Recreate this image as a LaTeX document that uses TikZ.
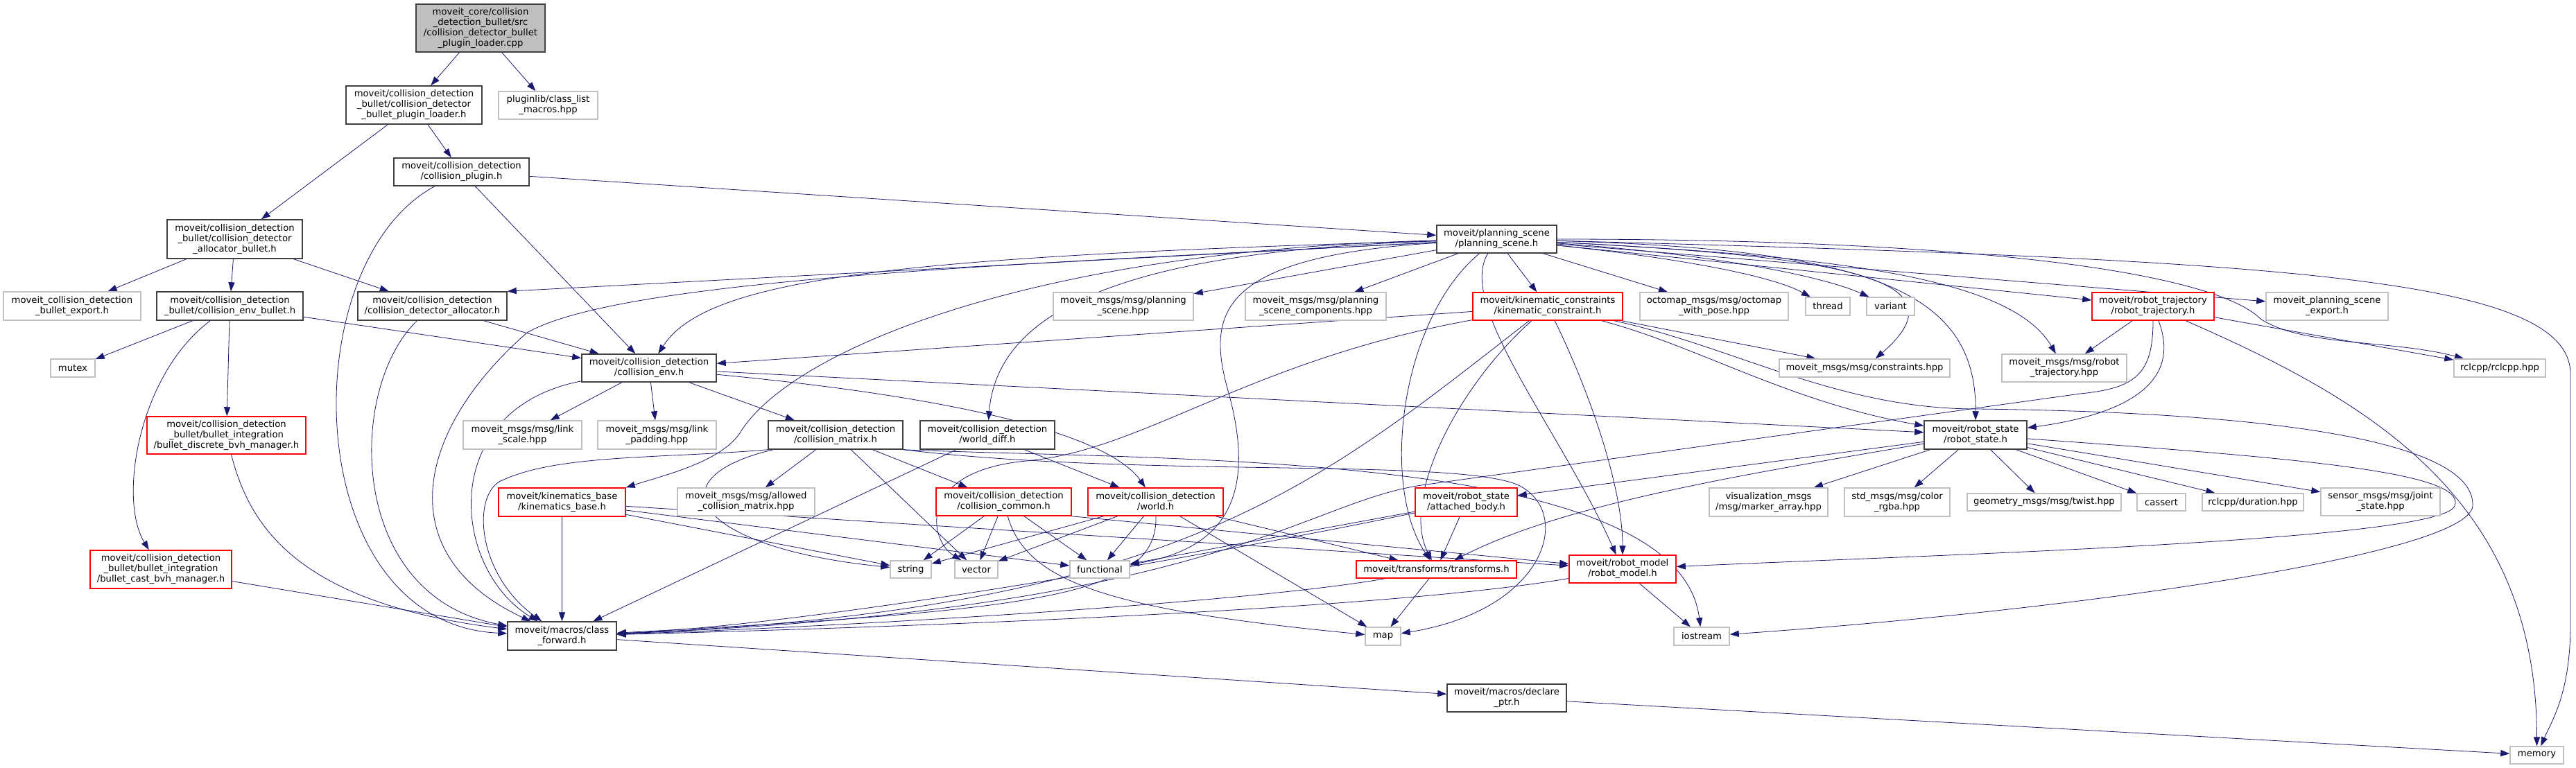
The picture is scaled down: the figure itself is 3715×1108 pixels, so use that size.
\documentclass[tikz,border=0pt]{standalone}
\usepackage{fontspec}
\setmainfont{DejaVu Sans}
\usepackage{tikz}
\usetikzlibrary{arrows.meta, backgrounds}
\definecolor{edgeblue}{RGB}{25,25,112}
\definecolor{docgray}{RGB}{64,64,64}
\definecolor{extgray}{RGB}{191,191,191}
\definecolor{rootgray}{RGB}{191,191,191}
\definecolor{truncred}{RGB}{255,0,0}
\newcommand\incfont{\fontsize{6.6pt}{7.5pt}\selectfont}

\begin{document}
\begin{tikzpicture}[->, >={Triangle[length=6.5pt, width=4.6pt]},
            x=0.5pt, y=-0.5pt, line width=0.7pt,
            every node/.style={font=\incfont, align=center, inner sep=0pt},
            every edge/.style={draw=edgeblue},
            doc/.style={draw=docgray, fill=white, line width=0.75pt},
            ext/.style={draw=extgray, fill=white, line width=0.75pt},
            trunc/.style={draw=truncred, fill=white, line width=0.75pt},
            root/.style={draw=docgray, fill=rootgray, line width=0.75pt},
            sz/.style 2 args={minimum width=#1*0.5pt, minimum height=#2*0.5pt}]
          \useasboundingbox (0,0) rectangle (3715,1108);
          \node[root, sz={186}{69}] (cpp) at (693,40.5) {moveit\_core/collision\\\_detection\_bullet/src\\/collision\_detector\_bullet\\\_plugin\_loader.cpp};
          \node[doc, sz={196}{55}] (ploader) at (597,151.5) {moveit/collision\_detection\\\_bullet/collision\_detector\\\_bullet\_plugin\_loader.h};
          \node[ext, sz={143}{40}] (classlist) at (790.5,152) {pluginlib/class\_list\\\_macros.hpp};
          \node[doc, sz={195}{40}] (collplugin) at (665.5,248) {moveit/collision\_detection\\/collision\_plugin.h};
          \node[doc, sz={195}{56}] (allocbullet) at (338.5,345) {moveit/collision\_detection\\\_bullet/collision\_detector\\\_allocator\_bullet.h};
          \node[ext, sz={198}{41}] (bexport) at (104,441.5) {moveit\_collision\_detection\\\_bullet\_export.h};
          \node[doc, sz={211}{41}] (envbullet) at (331.5,441.5) {moveit/collision\_detection\\\_bullet/collision\_env\_bullet.h};
          \node[doc, sz={215}{41}] (detalloc) at (623.5,441.5) {moveit/collision\_detection\\/collision\_detector\_allocator.h};
          \node[ext, sz={64}{26}] (mutex) at (105,531) {mutex};
          \node[trunc, sz={229}{54}] (discrete) at (326.5,628) {moveit/collision\_detection\\\_bullet/bullet\_integration\\/bullet\_discrete\_bvh\_manager.h};
          \node[trunc, sz={204}{55}] (castbvh) at (232,821.5) {moveit/collision\_detection\\\_bullet/bullet\_integration\\/bullet\_cast\_bvh\_manager.h};
          \node[doc, sz={194}{40}] (collenv) at (936,531) {moveit/collision\_detection\\/collision\_env.h};
          \node[ext, sz={171}{41}] (linkscale) at (753.5,627.5) {moveit\_msgs/msg/link\\\_scale.hpp};
          \node[ext, sz={171}{41}] (linkpad) at (947.5,627.5) {moveit\_msgs/msg/link\\\_padding.hpp};
          \node[doc, sz={194}{41}] (collmatrix) at (1205,627.5) {moveit/collision\_detection\\/collision\_matrix.h};
          \node[doc, sz={194}{41}] (worlddiff) at (1424,627.5) {moveit/collision\_detection\\/world\_diff.h};
          \node[trunc, sz={183}{41}] (kinbase) at (810.5,724.5) {moveit/kinematics\_base\\/kinematics\_base.h};
          \node[ext, sz={198}{40}] (allowed) at (1076,724) {moveit\_msgs/msg/allowed\\\_collision\_matrix.hpp};
          \node[trunc, sz={195}{40}] (collcommon) at (1447.5,724) {moveit/collision\_detection\\/collision\_common.h};
          \node[trunc, sz={195}{40}] (world) at (1666.5,724) {moveit/collision\_detection\\/world.h};
          \node[ext, sz={59}{25}] (string) at (1313.5,821.5) {string};
          \node[ext, sz={62}{25}] (vector) at (1408,821.5) {vector};
          \node[ext, sz={86}{25}] (functional) at (1586,821.5) {functional};
          \node[doc, sz={157}{41}] (classfwd) at (810.5,917.5) {moveit/macros/class\\\_forward.h};
          \node[ext, sz={51}{26}] (map) at (1994.5,918) {map};
          \node[doc, sz={173}{40}] (planscene) at (2158.5,345) {moveit/planning\_scene\\/planning\_scene.h};
          \node[ext, sz={202}{40}] (psmsg) at (1620,442) {moveit\_msgs/msg/planning\\\_scene.hpp};
          \node[ext, sz={203}{40}] (pscomp) at (1897.5,442) {moveit\_msgs/msg/planning\\\_scene\_components.hpp};
          \node[trunc, sz={216}{40}] (kinconstr) at (2232,442) {moveit/kinematic\_constraints\\/kinematic\_constraint.h};
          \node[ext, sz={214}{40}] (octomap) at (2472,442) {octomap\_msgs/msg/octomap\\\_with\_pose.hpp};
          \node[ext, sz={64}{26}] (thread) at (2636,442) {thread};
          \node[ext, sz={69}{26}] (variant) at (2726.5,442) {variant};
          \node[ext, sz={246}{26}] (constraints) at (2689,531) {moveit\_msgs/msg/constraints.hpp};
          \node[doc, sz={148}{41}] (robotstate) at (2849,627.5) {moveit/robot\_state\\/robot\_state.h};
          \node[trunc, sz={147}{41}] (attached) at (2114.5,724.5) {moveit/robot\_state\\/attached\_body.h};
          \node[trunc, sz={231}{25}] (transforms) at (2071.5,821.5) {moveit/transforms/transforms.h};
          \node[trunc, sz={154}{40}] (robotmodel) at (2340,821) {moveit/robot\_model\\/robot\_model.h};
          \node[ext, sz={171}{41}] (marker) at (2550.5,724.5) {visualization\_msgs\\/msg/marker\_array.hpp};
          \node[ext, sz={152}{41}] (colorrgba) at (2736,724.5) {std\_msgs/msg/color\\\_rgba.hpp};
          \node[ext, sz={80}{26}] (iostream) at (2454,918) {iostream};
          \node[doc, sz={172}{40}] (declptr) at (2173,1007) {moveit/macros/declare\\\_ptr.h};
          \node[trunc, sz={176}{40}] (robtraj) at (3105,442) {moveit/robot\_trajectory\\/robot\_trajectory.h};
          \node[ext, sz={176}{40}] (psexport) at (3356,442) {moveit\_planning\_scene\\\_export.h};
          \node[ext, sz={180}{40}] (robtrajmsg) at (2977,531) {moveit\_msgs/msg/robot\\\_trajectory.hpp};
          \node[ext, sz={132}{26}] (rclcpp) at (3605,531) {rclcpp/rclcpp.hpp};
          \node[ext, sz={222}{25}] (twist) at (2948,724.5) {geometry\_msgs/msg/twist.hpp};
          \node[ext, sz={70}{25}] (cassert) at (3117,724.5) {cassert};
          \node[ext, sz={146}{25}] (duration) at (3249,724.5) {rclcpp/duration.hpp};
          \node[ext, sz={172}{40}] (jointstate) at (3433,724) {sensor\_msgs/msg/joint\\\_state.hpp};
          \node[ext, sz={77}{25}] (memory) at (3658.5,1089.5) {memory};
          \begin{scope}[on background layer]
            \fill[white, -] (0,0) rectangle (3715,1108);
            \path (cpp) edge (ploader)
                  (cpp) edge (classlist)
                  (ploader) edge (allocbullet)
                  (ploader) edge (collplugin)
                  (collplugin) edge (planscene)
                  (collplugin) edge (collenv)
                  (allocbullet) edge (bexport)
                  (allocbullet) edge (envbullet)
                  (allocbullet) edge (detalloc)
                  (envbullet) edge (mutex)
                  (envbullet) edge (discrete)
                  (envbullet) edge (collenv)
                  (detalloc) edge (collenv)
                  (castbvh) edge (classfwd)
                  (collenv) edge (linkscale)
                  (collenv) edge (linkpad)
                  (collenv) edge (collmatrix)
                  (collenv) edge (robotstate)
                  (collmatrix) edge (allowed)
                  (collmatrix) edge (collcommon)
                  (collmatrix) edge (vector)
                  (worlddiff) edge (classfwd)
                  (worlddiff) edge (world)
                  (kinbase) edge (classfwd)
                  (kinbase) edge (string)
                  (kinbase) edge (functional)
                  (kinbase) edge (robotmodel)
                  (collcommon) edge (string)
                  (collcommon) edge (vector)
                  (collcommon) edge (functional)
                  (collcommon.south east) edge (robotmodel)
                  (world) edge (string)
                  (world) edge (vector)
                  (world) edge (functional)
                  (world) edge (map)
                  (world) edge (transforms)
                  (planscene) edge (detalloc.north east)
                  (planscene) edge (psmsg)
                  (planscene) edge (pscomp)
                  (planscene) edge (kinconstr)
                  (planscene) edge (octomap)
                  (planscene) edge (robtraj)
                  (planscene) edge (psexport)
                  (kinconstr) edge (collenv)
                  (kinconstr) edge (constraints)
                  (robotstate) edge (attached)
                  (robotstate) edge (marker)
                  (robotstate) edge (colorrgba)
                  (robotstate) edge (twist)
                  (robotstate) edge (cassert)
                  (robotstate) edge (duration)
                  (robotstate) edge (jointstate)
                  (robtraj) edge (robtrajmsg)
                  (robtraj) edge (rclcpp)
                  (attached) edge (transforms)
                  (attached) edge (functional)
                  (transforms) edge (map)
                  (robotmodel) edge (iostream)
                  (classfwd) edge (declptr)
                  (declptr) edge (memory);
            \draw[edgeblue] (collplugin) .. controls (420,380) and (430,900) .. (classfwd);
            \draw[edgeblue] (envbullet) .. controls (200,540) and (170,720) .. (castbvh);
            \draw[edgeblue] (detalloc) .. controls (500,560) and (500,860) .. (classfwd);
            \draw[edgeblue] (discrete) .. controls (360,760) and (430,870) .. (classfwd);
            \draw[edgeblue] (collenv) .. controls (1400,575) and (1600,630) .. (world);
            \draw[edgeblue] (collenv) .. controls (630,590) and (650,820) .. (classfwd);
            \draw[edgeblue] (collmatrix) .. controls (940,690) and (1000,790) .. (string);
            \draw[edgeblue] (collmatrix.south west) .. controls (950,662) and (800,655) .. (720,695) .. controls (680,720) and (690,830) .. (classfwd);
            \draw[edgeblue] (collmatrix.south east) .. controls (1700,665) and (2420,650) .. (iostream);
            \draw[edgeblue] (collmatrix.south east) .. controls (1650,690) and (2100,660) .. (2190,700) .. controls (2270,740) and (2230,880) .. (map);
            \draw[edgeblue] (collcommon) .. controls (1480,840) and (1600,880) .. (map);
            \draw[edgeblue] (world) .. controls (1670,860) and (1500,880) .. (classfwd);
            \draw[edgeblue] (planscene) .. controls (1700,360) and (1440,420) .. (worlddiff);
            \draw[edgeblue] (planscene) .. controls (1300,370) and (1020,400) .. (collenv);
            \draw[edgeblue] (planscene) .. controls (1500,380) and (900,400) .. (760,480) .. controls (600,620) and (560,800) .. (classfwd);
            \draw[edgeblue] (planscene) .. controls (1500,360) and (1150,500) .. (1070,620) .. controls (1045,665) and (960,685) .. (kinbase.north east);
            \draw[edgeblue] (planscene) .. controls (2400,370) and (2550,395) .. (thread);
            \draw[edgeblue] (planscene) .. controls (2450,365) and (2620,395) .. (variant);
            \draw[edgeblue] (planscene) .. controls (2650,370) and (2840,400) .. (constraints);
            \draw[edgeblue] (planscene) .. controls (2700,360) and (2850,420) .. (robotstate);
            \draw[edgeblue] (planscene) .. controls (2650,370) and (2900,400) .. (robtrajmsg);
            \draw[edgeblue] (planscene) .. controls (2900,345) and (3200,400) .. (3260,460) .. controls (3320,500) and (3450,490) .. (rclcpp);
            \draw[edgeblue] (planscene) .. controls (3300,375) and (3707,400) .. (3707,540) -- (3707,900) .. controls (3707,1000) and (3680,1040) .. (memory);
            \draw[edgeblue] (planscene) .. controls (1760,370) and (1740,450) .. (1770,560) .. controls (1810,700) and (1780,790) .. (functional);
            \draw[edgeblue] (planscene) .. controls (2020,460) and (1990,700) .. (transforms);
            \draw[edgeblue] (planscene) .. controls (2100,440) and (2250,620) .. (robotmodel);
            \draw[edgeblue] (kinconstr) .. controls (1900,700) and (1700,880) .. (classfwd);
            \draw[edgeblue] (kinconstr) .. controls (1800,520) and (1650,650) .. (1480,665) .. controls (1320,680) and (1340,780) .. (vector);
            \draw[edgeblue] (kinconstr) .. controls (2100,560) and (2020,720) .. (transforms);
            \draw[edgeblue] (kinconstr) .. controls (2290,560) and (2340,700) .. (robotmodel);
            \draw[edgeblue] (kinconstr) .. controls (2450,500) and (2580,580) .. (robotstate);
            \draw[edgeblue] (kinconstr) .. controls (2500,500) and (2650,590) .. (2850,590) .. controls (3300,595) and (3570,640) .. (3566,730) .. controls (3560,800) and (3000,880) .. (iostream);
            \draw[edgeblue] (robotstate) .. controls (2480,690) and (2250,730) .. (transforms);
            \draw[edgeblue] (robotstate) .. controls (3300,660) and (3560,680) .. (3540,730) .. controls (3520,780) and (2800,800) .. (robotmodel);
            \draw[edgeblue] (robtraj) .. controls (3150,560) and (3050,600) .. (robotstate);
            \draw[edgeblue] (robtraj) .. controls (3420,580) and (3658,720) .. (memory);
            \draw[edgeblue] (robtraj.south) .. controls (3105,540) and (3080,560) .. (3000,568) -- (2050,700) .. controls (1880,725) and (1750,880) .. (classfwd);
            \draw[edgeblue] (attached) .. controls (1800,790) and (1200,900) .. (classfwd);
            \draw[edgeblue] (transforms) .. controls (1800,870) and (1200,905) .. (classfwd);
            \draw[edgeblue] (robotmodel) .. controls (2000,880) and (1300,905) .. (classfwd);
          \end{scope}
        \end{tikzpicture}
\end{document}
